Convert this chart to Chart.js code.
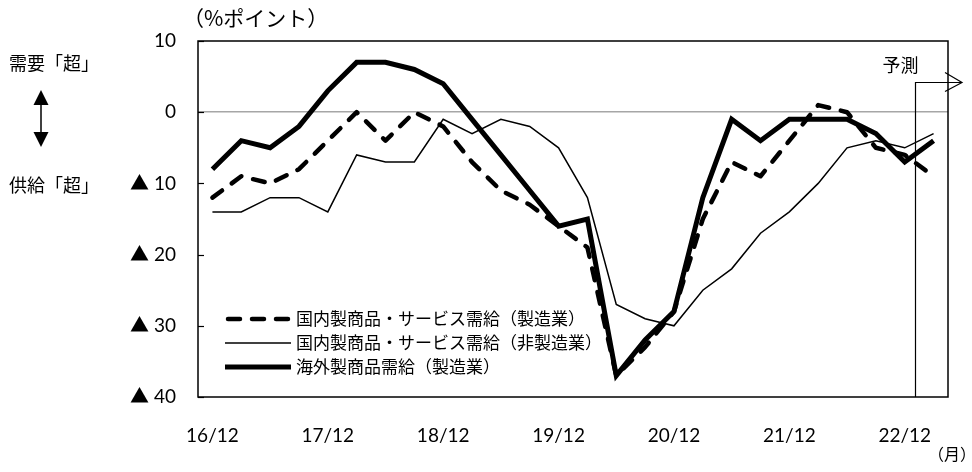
<!DOCTYPE html>
<html>
<head>
<meta charset="utf-8">
<script src="https://cdn.jsdelivr.net/npm/chart.js@4.4.1/dist/chart.umd.min.js"></script>
<style>
html,body{margin:0;padding:0;background:#fff;}
#wrap{width:972px;height:472px;position:relative;}
</style>
</head>
<body>
<div id="wrap"><canvas id="c" width="972" height="472"></canvas></div>
<script>
const categories = ['16/12','17/3','17/6','17/9','17/12','18/3','18/6','18/9','18/12','19/3','19/6','19/9','19/12','20/3','20/6','20/9','20/12','21/3','21/6','21/9','21/12','22/3','22/6','22/9','22/12','23/3'];
const domesticMfg    = [-12,-9,-10,-8,-4,0,-4,0,-2,-7,-11,-13,-16,-19,-37,-33,-28,-15,-7,-9,-4,1,0,-5,-6,-9];
const domesticNonMfg = [-14,-14,-12,-12,-14,-6,-7,-7,-1,-3,-1,-2,-5,-12,-27,-29,-30,-25,-22,-17,-14,-10,-5,-4,-5,-3];
const overseasMfg    = [-8,-4,-5,-2,3,7,7,6,4,-1,-6,-11,-16,-15,-37,-32,-28,-12,-1,-4,-1,-1,-1,-3,-7,-4];
const seriesNames = ['国内製商品・サービス需給（製造業）','国内製商品・サービス需給（非製造業）','海外製商品需給（製造業）'];
const yTicks = [10,0,-10,-20,-30,-40];
const titleText = '（%ポイント）';
const unitText = '（月）';
const forecastText = '予測';
const demandText = '需要「超」';
const supplyText = '供給「超」';

const JP = "'Noto Sans CJK JP', sans-serif";
const NUM = "Lato, 'Noto Sans CJK JP', sans-serif";

const DASH = [12, 12];

const decor = {
  id: 'decor',
  afterDraw(chart) {
    const ctx = chart.ctx;
    const a = chart.chartArea;
    const xs = chart.scales.x, ys = chart.scales.y;
    ctx.save();
    // plot border
    ctx.strokeStyle = '#000';
    ctx.lineWidth = 1.5;
    ctx.strokeRect(a.left, a.top, a.right - a.left, a.bottom - a.top);
    // inward ticks on y axis
    ctx.lineWidth = 1.2;
    yTicks.forEach(v => {
      const y = Math.round(ys.getPixelForValue(v)) + 0.5;
      ctx.beginPath(); ctx.moveTo(a.left, y); ctx.lineTo(a.left + 6, y); ctx.stroke();
    });
    // forecast marker
    const x24 = xs.getPixelForValue(24), x25 = xs.getPixelForValue(25);
    const fx = Math.round(x24 + 0.37 * (x25 - x24)) + 0.5;
    const fy = Math.round(ys.getPixelForValue(4.2)) + 0.5;
    ctx.lineWidth = 1.2;
    ctx.beginPath();
    ctx.moveTo(fx, a.bottom); ctx.lineTo(fx, fy); ctx.lineTo(a.right + 14, fy);
    ctx.stroke();
    ctx.beginPath();
    ctx.moveTo(a.right - 3, fy - 10); ctx.lineTo(a.right + 14, fy); ctx.lineTo(a.right - 3, fy + 9);
    ctx.stroke();
    ctx.fillStyle = '#000';
    ctx.font = '18px ' + JP;
    ctx.textAlign = 'center'; ctx.textBaseline = 'middle';
    ctx.fillText(forecastText, fx - 15, fy - 17);
    // title
    ctx.font = '21px ' + JP;
    ctx.textAlign = 'left';
    ctx.fillText(titleText, 183, 18);
    // unit
    ctx.font = '16px ' + JP;
    ctx.fillText(unitText, 928, 454);
    // left annotations
    ctx.font = '18px ' + JP;
    ctx.textAlign = 'left';
    ctx.fillText(demandText, 9, 63);
    ctx.fillText(supplyText, 9, 185);
    // double arrow
    const ax = 41;
    ctx.lineWidth = 1.5;
    ctx.beginPath(); ctx.moveTo(ax, 100); ctx.lineTo(ax, 138); ctx.stroke();
    ctx.beginPath(); ctx.moveTo(ax, 90); ctx.lineTo(ax - 7.5, 105); ctx.lineTo(ax + 7.5, 105); ctx.closePath(); ctx.fill();
    ctx.beginPath(); ctx.moveTo(ax, 147); ctx.lineTo(ax - 7.5, 132); ctx.lineTo(ax + 7.5, 132); ctx.closePath(); ctx.fill();
    // legend
    const rows = [319, 343, 367];
    chart.data.datasets.forEach((ds, i) => {
      const y = rows[i];
      ctx.save();
      ctx.strokeStyle = '#000';
      ctx.lineWidth = ds.borderWidth;
      ctx.lineCap = ds.borderCapStyle || 'butt';
      ctx.setLineDash(ds.borderDash || []);
      ctx.beginPath();
      if (ds.borderDash && ds.borderDash.length) {
        ctx.moveTo(228, y); ctx.lineTo(290, y);
      } else {
        ctx.moveTo(225, y); ctx.lineTo(291, y);
      }
      ctx.stroke();
      ctx.restore();
      ctx.font = '17px ' + JP;
      ctx.textAlign = 'left'; ctx.textBaseline = 'middle';
      ctx.fillText(ds.label, 296, y);
    });
    ctx.restore();
  }
};

new Chart(document.getElementById('c'), {
  type: 'line',
  data: {
    labels: categories,
    datasets: [
      { label: seriesNames[0], data: domesticMfg, borderColor: '#000', borderWidth: 4.5, borderDash: DASH, borderCapStyle: 'round', borderJoinStyle: 'round', pointRadius: 0, tension: 0, fill: false },
      { label: seriesNames[1], data: domesticNonMfg, borderColor: '#000', borderWidth: 1.5, pointRadius: 0, tension: 0, fill: false },
      { label: seriesNames[2], data: overseasMfg, borderColor: '#000', borderWidth: 5, borderJoinStyle: 'miter', pointRadius: 0, tension: 0, fill: false }
    ]
  },
  options: {
    responsive: false,
    animation: false,
    devicePixelRatio: 1,
    layout: { padding: { left: 0, right: 24, top: 41, bottom: 0 } },
    plugins: { legend: { display: false }, tooltip: { enabled: false } },
    scales: {
      x: {
        type: 'category',
        offset: true,
        grid: { display: false, drawTicks: false },
        border: { display: false },
        ticks: {
          autoSkip: false, maxRotation: 0, minRotation: 0, padding: 27,
          color: '#000', font: { family: NUM, size: 19 },
          callback: function(v, i) { return i % 4 === 0 ? categories[i] : ''; }
        },
        afterFit(s) { s.height = 75; }
      },
      y: {
        min: -40, max: 10,
        afterBuildTicks(s) { s.ticks = yTicks.map(v => ({ value: v })); },
        grid: {
          drawTicks: false,
          color: ctx => (ctx.tick && ctx.tick.value === 0) ? '#a6a6a6' : 'rgba(0,0,0,0)',
          lineWidth: 1.5
        },
        border: { display: false },
        ticks: {
          padding: 22, color: '#000', font: { family: NUM, size: 19 },
          callback: v => v < 0 ? '▲ ' + (-v) : String(v)
        },
        afterFit(s) { s.width = 198; }
      }
    }
  },
  plugins: [decor]
});
</script>
</body>
</html>
